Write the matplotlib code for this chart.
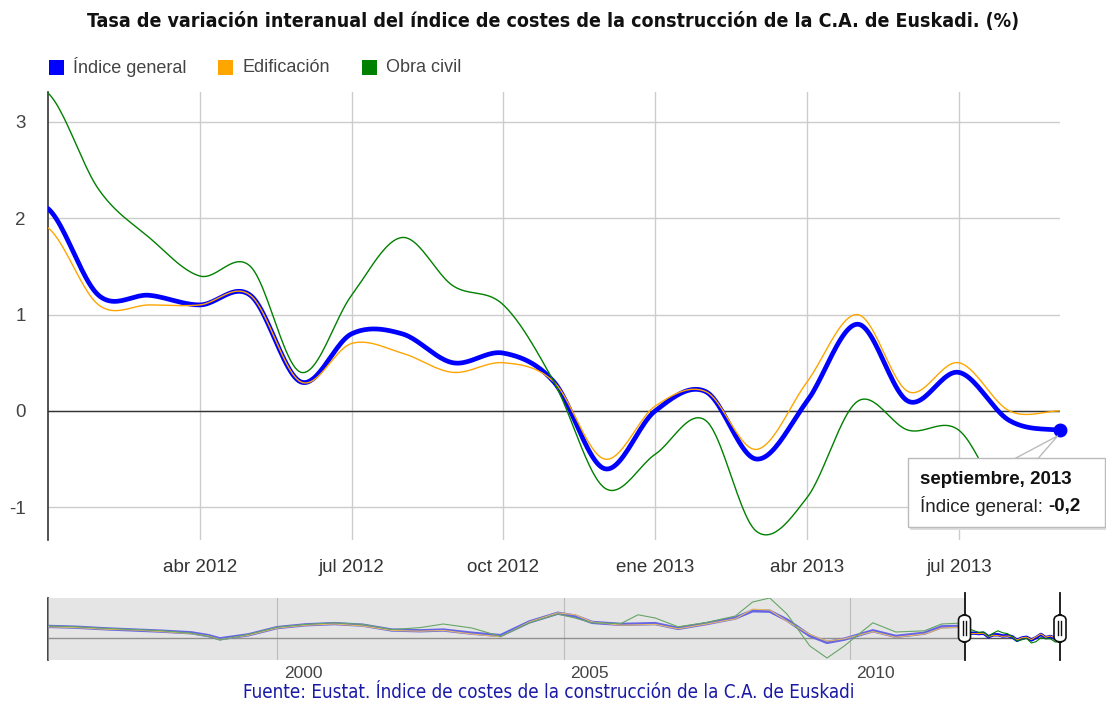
import numpy as np
import matplotlib
matplotlib.use("Agg")
import matplotlib.pyplot as plt
from matplotlib.patches import FancyBboxPatch, Polygon, Rectangle

# ---------------- data ----------------
months = ["ene 2012", "feb 2012", "mar 2012", "abr 2012", "may 2012", "jun 2012", "jul 2012",
          "ago 2012", "sep 2012", "oct 2012", "nov 2012", "dic 2012", "ene 2013", "feb 2013",
          "mar 2013", "abr 2013", "may 2013", "jun 2013", "jul 2013", "ago 2013", "sep 2013"]
indice_general = [2.1, 1.2, 1.2, 1.1, 1.2, 0.3, 0.8, 0.8, 0.5, 0.6, 0.3, -0.6, 0.0, 0.2,
                  -0.5, 0.1, 0.9, 0.1, 0.4, -0.1, -0.2]
edificacion = [1.9, 1.1, 1.1, 1.1, 1.2, 0.3, 0.7, 0.6, 0.4, 0.5, 0.3, -0.5, 0.05, 0.2,
               -0.4, 0.3, 1.0, 0.2, 0.5, 0.0, 0.0]
obra_civil = [3.3, 2.3, 1.8, 1.4, 1.5, 0.4, 1.2, 1.8, 1.3, 1.1, 0.3, -0.8, -0.45, -0.1,
              -1.25, -0.9, 0.1, -0.2, -0.2, -1.0, -1.0]
tick_idx = [3, 6, 9, 12, 15, 18]
tick_labels = ["abr 2012", "jul 2012", "oct 2012", "ene 2013", "abr 2013", "jul 2013"]

# overview (range selector) history, read roughly from the strip
hist_years = [1996.0, 1996.5, 1997.0, 1997.5, 1998.0, 1998.5, 1998.8, 1999.0, 1999.5, 2000.0,
              2000.5, 2001.0, 2001.5, 2002.0, 2002.5, 2002.9, 2003.4, 2003.9, 2004.4, 2004.9,
              2005.2, 2005.5, 2006.0, 2006.3, 2006.6, 2007.0, 2007.5, 2008.0, 2008.3, 2008.6,
              2008.9, 2009.3, 2009.6, 2009.9, 2010.4, 2010.8, 2011.3, 2011.6, 2011.9]
hist_general = [2.9, 2.7, 2.3, 2.0, 1.7, 1.3, 0.6, -0.2, 0.8, 2.6, 3.3, 3.6, 3.2, 2.0, 1.8,
                2.0, 1.2, 0.6, 4.0, 6.2, 5.5, 3.9, 3.4, 3.5, 3.6, 2.4, 3.6, 5.0, 6.8, 6.7,
                4.5, 0.6, -1.1, -0.3, 1.8, 0.4, 1.2, 2.8, 2.9]
hist_edif = [2.8, 2.6, 2.2, 2.0, 1.6, 1.1, 0.5, -0.4, 0.7, 2.5, 3.2, 3.5, 3.0, 1.9, 1.7,
             1.9, 1.0, 0.3, 4.0, 6.3, 5.8, 4.0, 3.2, 3.3, 3.4, 2.3, 3.5, 4.8, 7.2, 7.0,
             4.2, 0.9, -0.8, -0.2, 1.6, 0.2, 1.0, 2.5, 2.7]
hist_civil = [3.0, 2.8, 2.4, 2.1, 1.8, 1.2, 0.4, -0.5, 0.9, 2.7, 3.4, 3.8, 3.4, 2.1, 2.6,
              3.5, 2.5, 0.4, 3.8, 6.0, 5.0, 3.8, 3.6, 5.8, 5.0, 2.8, 3.9, 5.5, 9.0, 10.0,
              6.0, -2.0, -5.0, -2.0, 3.8, 1.5, 1.8, 3.5, 3.7]
overview_ticks = [2000, 2005, 2010]

title = "Tasa de variación interanual del índice de costes de la construcción de la C.A. de Euskadi. (%)"
source = "Fuente: Eustat. Índice de costes de la construcción de la C.A. de Euskadi"
series_names = ["Índice general", "Edificación", "Obra civil"]

BLUE = "#0000ff"
ORANGE = "#ffa500"
GREEN = "#008000"
TXT = "#444444"

W, H = 1106, 705


def fx(px):
    return px / W


def fy(py):
    return 1 - py / H


def catmull(y, n=24):
    y = np.asarray(y, float)
    p = np.concatenate([[y[0]], y, [y[-1]]])
    xs, ys = [], []
    t = np.linspace(0, 1, n, endpoint=False)
    h00 = 2 * t**3 - 3 * t**2 + 1
    h10 = t**3 - 2 * t**2 + t
    h01 = -2 * t**3 + 3 * t**2
    h11 = t**3 - t**2
    for i in range(len(y) - 1):
        p0, p1, p2, p3 = p[i], p[i + 1], p[i + 2], p[i + 3]
        m1 = (p2 - p0) / 2
        m2 = (p3 - p1) / 2
        xs.append(i + t)
        ys.append(h00 * p1 + h10 * m1 + h01 * p2 + h11 * m2)
    xs.append([len(y) - 1])
    ys.append([y[-1]])
    return np.concatenate(xs), np.concatenate(ys)


plt.rcParams["font.family"] = ["Liberation Sans", "DejaVu Sans"]

fig = plt.figure(figsize=(W / 100, H / 100), dpi=100)
fig.patch.set_facecolor("white")

# ---------------- title ----------------
fig.text(fx(553), fy(22), title, ha="center", va="center", fontsize=14,
         fontweight="bold", family=["DejaVu Sans"], fontstretch="condensed", color="#111111")

# ---------------- legend ----------------
leg_x = [49, 218, 362]
for (name, col, lx) in zip(series_names, [BLUE, ORANGE, GREEN], leg_x):
    fig.patches.append(Rectangle((fx(lx), fy(75)), 15 / W, 15 / H, transform=fig.transFigure,
                                 facecolor=col, edgecolor="none"))
    fig.text(fx(lx + 24), fy(67), name, ha="left", va="center", fontsize=13, color=TXT)

# ---------------- main axes ----------------
ax = fig.add_axes([fx(48), fy(540), 1012 / W, 448 / H])
n = len(months)
ax.set_xlim(0, n - 1)
ax.set_ylim(-1.34, 3.31)
for s in ["top", "right", "bottom"]:
    ax.spines[s].set_visible(False)
ax.spines["left"].set_color("#333333")
ax.spines["left"].set_linewidth(1.2)

ax.set_yticks([-1, 0, 1, 2, 3])
ax.set_yticklabels(["-1", "0", "1", "2", "3"], fontsize=13.5, color=TXT)
ax.set_xticks(tick_idx)
ax.set_xticklabels(tick_labels, fontsize=13.5, color="#333333")
ax.tick_params(axis="both", length=0)
ax.tick_params(axis="y", pad=16)
ax.tick_params(axis="x", pad=14)
ax.grid(True, color="#cccccc", linewidth=1.0)
ax.set_axisbelow(True)
ax.axhline(0, color="#333333", linewidth=1.0, zorder=1.5)

xb, yb = catmull(indice_general)
xo, yo = catmull(edificacion)
xg, yg = catmull(obra_civil)
ax.plot(xb, yb, color=BLUE, lw=3.4, solid_capstyle="round", zorder=3)
ax.plot(xo, yo, color=ORANGE, lw=1.0, zorder=4)
ax.plot(xg, yg, color=GREEN, lw=1.0, zorder=4)
ax.plot([n - 1], [indice_general[-1]], "o", color=BLUE, ms=9, zorder=6, clip_on=False)

# ---------------- tooltip ----------------
tip = ax.transData.transform((n - 1, indice_general[-1]))
tipf = fig.transFigure.inverted().transform(tip)
shadow = FancyBboxPatch((fx(910), fy(530)), 197 / W, 69 / H, boxstyle="square,pad=0",
                        transform=fig.transFigure, facecolor="#dddddd", edgecolor="none",
                        zorder=7)
box = FancyBboxPatch((fx(908), fy(527)), 197 / W, 69 / H, boxstyle="square,pad=0",
                     transform=fig.transFigure, facecolor="white", edgecolor="#bbbbbb",
                     linewidth=1.0, zorder=8)
pointer = Polygon([(fx(1015), fy(458.5)), (tipf[0] - 0.002, tipf[1] - 0.008),
                   (fx(1038), fy(458.5))], closed=True, transform=fig.transFigure,
                  facecolor="white", edgecolor="#bbbbbb", linewidth=1.0, zorder=7.5)
fig.patches.extend([shadow, pointer, box])
fig.text(fx(920), fy(480), "septiembre, 2013", fontsize=13.5, fontweight="bold",
         color="#111111", ha="left", va="center", zorder=9)
t1 = fig.text(fx(920), fy(506), "Índice general: ", fontsize=13.5, color="#222222",
              ha="left", va="center", zorder=9)
fig.canvas.draw()
bb = t1.get_window_extent()
fig.text(bb.x1 / W, fy(506), "-0,2", fontsize=13.5, fontweight="bold", color="#111111",
         ha="left", va="center", zorder=9)

# ---------------- overview ----------------
ax2 = fig.add_axes([fx(48), fy(660), 1012 / W, 62 / H])
x_end = 2012 + (n - 1) / 12
ax2.set_xlim(1996, x_end)
ax2.set_ylim(-5.5, 10)
for s in ["top", "right", "bottom"]:
    ax2.spines[s].set_visible(False)
ax2.spines["left"].set_color("#222222")
ax2.spines["left"].set_linewidth(1.2)
ax2.set_yticks([])
ax2.set_xticks([v + 0.45 for v in overview_ticks])
ax2.set_xticklabels([str(v) for v in overview_ticks], fontsize=12.5, color=TXT)
ax2.tick_params(axis="x", length=0, pad=4)
for v in overview_ticks:
    ax2.axvline(v, color="#aaaaaa", lw=0.8, zorder=1)
ax2.axhline(0, color="#555555", lw=1.0, zorder=1.5)

recent_t = [2012 + i / 12 for i in range(n)]
ov_t = hist_years + recent_t
ax2.plot(ov_t, hist_general + indice_general, color=BLUE, lw=2.4, zorder=3)
ax2.plot(ov_t, hist_edif + edificacion, color=ORANGE, lw=0.8, zorder=3)
ax2.plot(ov_t, hist_civil + obra_civil, color=GREEN, lw=0.8, zorder=3)
ax2.axvspan(1996, 2012, color="#cccccc", alpha=0.5, lw=0, zorder=4)

for hx in [2012, x_end]:
    ax2.plot([hx, hx], [-5.5, 11.2], color="#111111", lw=1.3, zorder=5, clip_on=False)
    hp = ax2.transData.transform((hx, 0))
    hpf = fig.transFigure.inverted().transform(hp)
    handle = FancyBboxPatch((hpf[0] - 6 / W, fy(642)), 12 / W, 27 / H,
                            boxstyle="round,pad=0,rounding_size=0.007",
                            transform=fig.transFigure, facecolor="white",
                            edgecolor="#111111", linewidth=1.2, zorder=10)
    fig.patches.append(handle)
    for dx in (-1.5, 1.5):
        fig.lines.append(plt.Line2D([hpf[0] + dx / W] * 2, [fy(635), fy(621)],
                                    transform=fig.transFigure, color="#111111", lw=1.0,
                                    zorder=11))

# ---------------- source ----------------
fig.text(fx(549), fy(693), source, ha="center", va="center", fontsize=13.5,
         family=["DejaVu Sans"], fontstretch="condensed", color="#1a1aa8")

fig.savefig("out.png", dpi=100, facecolor="white")
